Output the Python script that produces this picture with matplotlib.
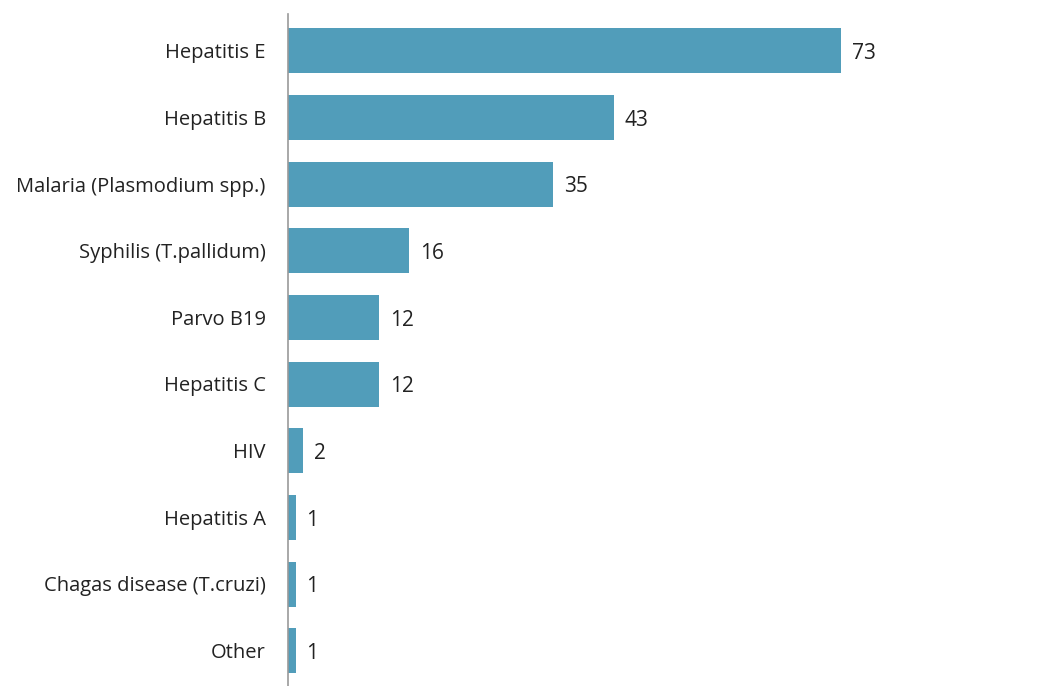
import matplotlib
matplotlib.use("Agg")
import matplotlib.pyplot as plt

# Data
categories = ["Hepatitis E", "Hepatitis B", "Malaria (Plasmodium spp.)",
              "Syphilis (T.pallidum)", "Parvo B19", "Hepatitis C", "HIV",
              "Hepatitis A", "Chagas disease (T.cruzi)", "Other"]
counts = [73, 43, 35, 16, 12, 12, 2, 1, 1, 1]

plt.rcParams['font.family'] = ['Open Sans', 'DejaVu Sans']

fig = plt.figure(figsize=(10.62, 6.86), dpi=100)
ax = fig.add_axes([288 / 1062, 0, (1045 - 288) / 1062, (686 - 14) / 686])

bar_color = '#519DBA'
y = list(range(len(categories)))
ax.barh(y, counts, height=0.675, color=bar_color)

for yi, v in zip(y, counts):
    ax.text(v + 1.45, yi + 0.04, str(v), va='center', ha='left',
            fontsize=15, color='#222222')

ax.set_yticks(y)
ax.set_yticklabels(categories, fontsize=14.5, color='#222222')
ax.tick_params(axis='y', length=0, pad=16)
ax.set_xticks([])
ax.set_xlim(0, 100)
ax.set_ylim(9.53, -0.55)

for s in ['top', 'right', 'bottom']:
    ax.spines[s].set_visible(False)
ax.spines['left'].set_color('#999999')
ax.spines['left'].set_linewidth(1.2)

fig.savefig('out.png', dpi=100)
